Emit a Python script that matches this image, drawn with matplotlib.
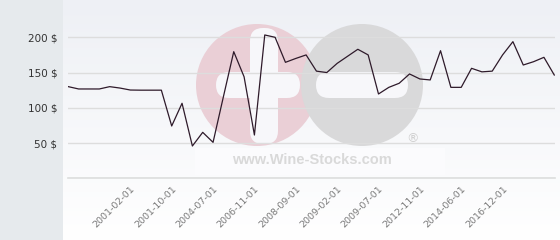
import numpy as np
import matplotlib
matplotlib.use("Agg")
import matplotlib.pyplot as plt
from matplotlib.patches import Circle, FancyBboxPatch, Rectangle

# ---- data ----
prices = [130, 126.7, 126.7, 126.7, 130, 128, 125.2, 125, 125, 125,
          74.2, 106.4, 45.8, 65.2, 51, 115.7, 179.6, 144, 61.4, 203.3,
          200, 164.5, 170, 175, 152, 150, 163, 173, 183, 175,
          119.6, 129, 134.8, 148, 140.9, 139.5, 181, 129, 129, 156,
          151, 152, 175, 193.8, 160.7, 165.4, 171.6, 146.5]
tick_positions = [6, 10, 14, 18, 22, 26, 30, 34, 38, 42]
tick_labels = ["2001-02-01", "2001-10-01", "2004-07-01", "2006-11-01",
               "2008-09-01", "2009-02-01", "2009-07-01", "2012-11-01",
               "2014-06-01", "2016-12-01"]
y_ticks = [0, 50, 100, 150, 200]
y_labels = ["", "50 $", "100 $", "150 $", "200 $"]

W, H = 560, 240
fig = plt.figure(figsize=(W / 100, H / 100), dpi=100)

# ---- background layer (pixel coordinates) ----
bg = fig.add_axes([0, 0, 1, 1], zorder=0)
bg.set_xlim(0, W)
bg.set_ylim(H, 0)
bg.axis("off")
grad = np.linspace(0, 1, 256).reshape(-1, 1)
top = np.array([0xee, 0xf0, 0xf5]) / 255
bot = np.array([1.0, 1.0, 1.0])
img = top[None, None, :] * (1 - grad[:, :, None]) + bot[None, None, :] * grad[:, :, None]
bg.imshow(img, extent=[0, W, H, 0], aspect="auto", zorder=0)
bg.add_patch(Rectangle((0, 0), 63, H, color="#e6eaed", zorder=1, lw=0))

# watermark
bg.add_patch(Rectangle((195, 148), 250, 27, color="#fbfbfd", lw=0, zorder=1.5))
bg.add_patch(Circle((257, 85), 61, color="#eacfd6", lw=0, zorder=2))
bg.add_patch(Circle((362, 85), 61, color="#d9d9da", lw=0, zorder=3))
bg.add_patch(FancyBboxPatch((216, 72), 84, 26, boxstyle="round,pad=0,rounding_size=13",
                            color="#f7f7fa", lw=0, zorder=4))
bg.add_patch(FancyBboxPatch((250, 28), 28, 116, boxstyle="round,pad=0,rounding_size=13",
                            color="#f7f7fa", lw=0, zorder=4))
bg.add_patch(FancyBboxPatch((316, 72), 92, 26, boxstyle="round,pad=0,rounding_size=13",
                            color="#f7f7fa", lw=0, zorder=4))
bg.text(312, 160, "www.Wine-Stocks.com", ha="center", va="center",
        fontsize=10.5, fontweight="bold", color="#d9d9d9",
        family="Liberation Sans", zorder=5)
bg.text(413, 139, "®", ha="center", va="center", fontsize=9,
        color="#d0d0d0", family="DejaVu Sans", zorder=5)

# ---- main chart ----
ax = fig.add_axes([68.3 / W, (H - 178.3) / H, (555 - 68.3) / W, 178.3 / H], zorder=2)
ax.patch.set_alpha(0)
x = np.arange(len(prices))
ax.plot(x, prices, color="#2e1a2a", lw=0.9, zorder=3)
ax.set_xlim(0, 47.07)
ax.set_ylim(0, 252.9)
ax.set_yticks(y_ticks)
ax.set_yticklabels(y_labels)
ax.set_xticks(tick_positions)
ax.set_xticklabels(tick_labels, rotation=45, ha="right", rotation_mode="anchor")
ax.grid(axis="y", color="#dddddd", lw=1)
ax.grid(axis="x", visible=False)
ax.axhline(0, color="#dddddd", lw=1.2, clip_on=False, zorder=2)
for s in ax.spines.values():
    s.set_visible(False)
ax.tick_params(axis="both", length=0)
ax.tick_params(axis="y", labelsize=7.5, labelcolor="#333333", pad=8)
ax.tick_params(axis="x", labelsize=6.8, labelcolor="#7a7a7a", pad=4)

fig.savefig("out.png", dpi=100)
